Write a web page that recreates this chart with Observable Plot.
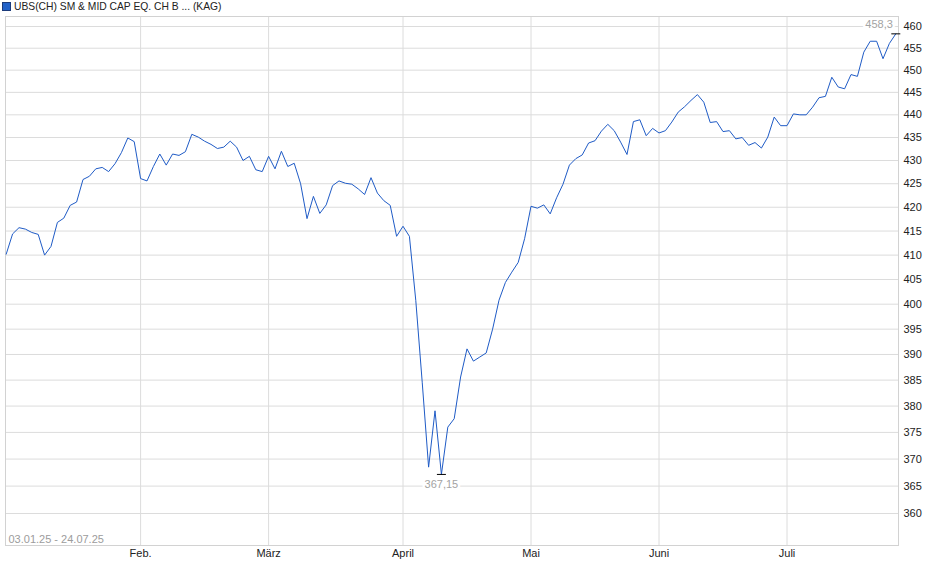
<!DOCTYPE html>
<html>
<head>
<meta charset="utf-8">
<script src="https://cdn.jsdelivr.net/npm/d3@7"></script>
<script src="https://cdn.jsdelivr.net/npm/@observablehq/plot@0.6"></script>
<style>
  html, body { margin: 0; padding: 0; background: #fff; }
  #wrap { position: relative; width: 940px; height: 579px; font-family: "Liberation Sans", Arial, sans-serif; }
  #title { position: absolute; left: 2px; top: 0px; height: 13px; display: flex; align-items: center; font-size: 10.3px; color: #222; white-space: nowrap; }
  #title .sw { display: inline-block; width: 7px; height: 7px; background: #2262c8; border: 1px solid #1b3b7a; margin-right: 3px; }
  #chart { position: absolute; left: 0; top: 0; }
</style>
</head>
<body>
<div id="wrap">
  <div id="chart"></div>
  <div id="title"><span class="sw"></span><span>UBS(CH) SM &amp; MID CAP EQ. CH B ... (KAG)</span></div>
</div>
<script>
// Daily closing values (trading days 03.01.25 - 24.07.25)
const values = [
  410.2, 414.4, 415.7, 415.4, 414.7, 414.3, 410.0, 411.8, 416.8, 417.7,
  420.4, 421.1, 425.9, 426.6, 428.2, 428.5, 427.6, 429.3, 431.7, 434.9,
  434.1, 426.1, 425.6, 428.7, 431.4, 429.0, 431.4, 431.1, 431.9, 435.7,
  435.1, 434.2, 433.5, 432.6, 432.9, 434.2, 432.9, 430.0, 430.9, 428.0,
  427.6, 430.9, 428.2, 432.0, 428.7, 429.4, 425.0, 417.6, 422.3, 418.7,
  420.5, 424.6, 425.6, 425.1, 424.9, 423.9, 422.7, 426.3, 423.0, 421.4,
  420.4, 413.9, 416.0, 413.9, 400.7, 384.6, 368.5, 379.1, 367.15, 376.0,
  377.6, 385.6, 391.1, 388.7, 389.5, 390.3, 395.0, 400.8, 404.4, 406.5,
  408.5, 413.4, 420.2, 419.8, 420.5, 418.6, 422.0, 424.9, 429.0, 430.4,
  431.2, 433.8, 434.3, 436.4, 437.9, 436.5, 434.0, 431.3, 438.5, 438.9,
  435.4, 437.0, 436.0, 436.5, 438.4, 440.6, 441.8, 443.2, 444.5, 442.8,
  438.3, 438.5, 436.3, 436.5, 434.7, 435.0, 433.3, 433.9, 432.7, 435.1,
  439.5, 437.6, 437.6, 440.2, 440.0, 440.0, 441.7, 443.8, 444.1, 448.4,
  446.2, 445.8, 449.0, 448.6, 454.1, 456.6, 456.6, 452.6, 456.1, 458.3
];
// Month start positions (trading-day index) and labels
const monthIdx = [21, 41, 62, 82, 102, 122];
const monthLabels = ["Feb.", "März", "April", "Mai", "Juni", "Juli"];
// Y tick values
const yTicks = [360, 365, 370, 375, 380, 385, 390, 395, 400, 405, 410, 415, 420, 425, 430, 435, 440, 445, 450, 455, 460];
const rangeLabel = "03.01.25 - 24.07.25";
const minLabel = "367,15";
const lastLabel = "458,3";

const data = values.map((v, i) => ({i, v}));
const minIndex = d3.minIndex(values);
const lastIndex = values.length - 1;
const minPt = [{i: minIndex, v: values[minIndex]}];
const lastPt = [{i: lastIndex, v: values[lastIndex]}];

const hbar = { draw(ctx) { ctx.moveTo(-4.5, 0); ctx.lineTo(4.5, 0); } };

const chart = Plot.plot({
  width: 940,
  height: 579,
  marginTop: 16,
  marginLeft: 5,
  marginRight: 42,
  marginBottom: 34,
  style: { fontFamily: "'Liberation Sans', Arial, sans-serif", fontSize: "11px", background: "#fff", overflow: "visible" },
  x: { domain: [-0.11, 139.42], axis: null, label: null },
  y: { type: "log", domain: [354.25, 462.32], axis: null, label: null },
  marks: [
    Plot.gridY(yTicks, { stroke: "#dcdcdc", strokeOpacity: 1 }),
    Plot.gridX(monthIdx, { stroke: "#dcdcdc", strokeOpacity: 1 }),
    Plot.frame({ stroke: "#d2d2d2" }),
    Plot.axisY(yTicks, { anchor: "right", label: null, tickSize: 0, tickPadding: 5, tickFormat: d => String(d), fill: "#222" }),
    Plot.axisX(monthIdx, { anchor: "bottom", label: null, tickSize: 0, tickPadding: 4, tickFormat: d => monthLabels[monthIdx.indexOf(d)], fill: "#222" }),
    Plot.line(data, { x: "i", y: "v", stroke: "#1f5bc6", strokeWidth: 1 }),
    Plot.dot(minPt, { x: "i", y: "v", symbol: hbar, r: 4, stroke: "#000", strokeWidth: 1, fill: "none" }),
    Plot.dot(lastPt, { x: "i", y: "v", symbol: hbar, r: 4, stroke: "#000", strokeWidth: 1, fill: "none" }),
    Plot.text(minPt, { x: "i", y: "v", text: () => minLabel, dy: 10, textAnchor: "middle", lineAnchor: "middle", fill: "#a3a3a3", stroke: "#fff", strokeWidth: 5 }),
    Plot.text(lastPt, { x: "i", y: "v", text: () => lastLabel, dy: -9, dx: -3, textAnchor: "end", lineAnchor: "middle", fill: "#a3a3a3", stroke: "#fff", strokeWidth: 5 }),
    Plot.text([rangeLabel], { frameAnchor: "bottom-left", dx: 3, dy: -6, lineAnchor: "middle", textAnchor: "start", fill: "#9c9c9c" })
  ]
});
document.getElementById("chart").appendChild(chart);
</script>
</body>
</html>
